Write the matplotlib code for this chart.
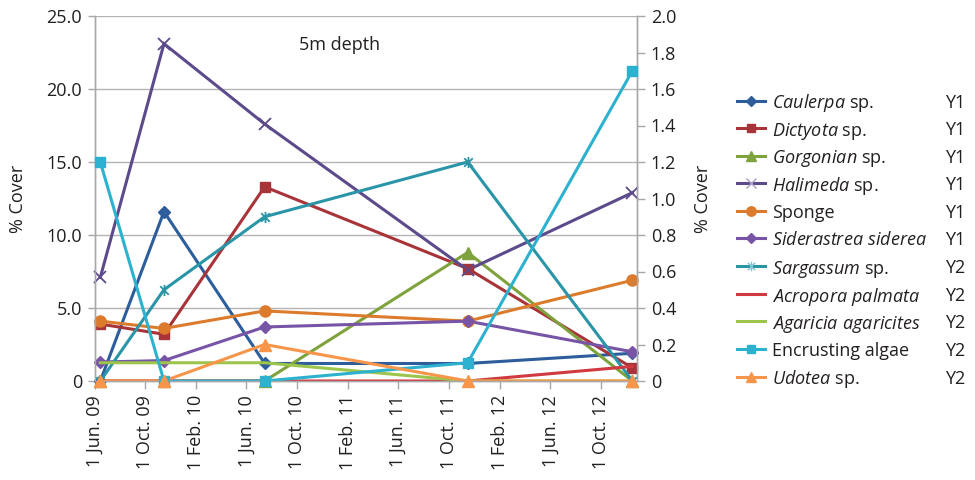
import matplotlib
matplotlib.use("Agg")
import matplotlib.pyplot as plt
import matplotlib.dates as mdates
from matplotlib.lines import Line2D
from matplotlib.path import Path
from matplotlib.ticker import FixedLocator, FuncFormatter
from datetime import datetime

plt.rcParams["font.family"] = ["Open Sans", "DejaVu Sans"]
plt.rcParams["mathtext.fontset"] = "custom"
plt.rcParams["mathtext.it"] = "Open Sans:italic"
plt.rcParams["mathtext.rm"] = "Open Sans"

# ---- survey data -------------------------------------------------------
survey_dates = ["2009-06-15", "2009-11-15", "2010-07-15", "2011-11-15", "2012-12-15"]

# primary axis (Y1, % cover 0-25)
caulerpa    = [0.0, 11.6, 1.2, 1.2, 1.9]
dictyota    = [3.9, 3.2, 13.3, 7.7, 0.9]
gorgonian   = [0.0, 0.0, 0.0, 8.8, 0.0]
halimeda    = [7.1, 23.1, 17.6, 7.6, 12.9]
sponge      = [4.1, 3.6, 4.8, 4.1, 6.9]
siderastrea = [1.3, 1.4, 3.7, 4.1, 2.0]

# secondary axis (Y2, % cover 0-2)
sargassum   = [0.0, 0.50, 0.90, 1.20, 0.0]
acropora    = [0.0, 0.0, 0.0, 0.0, 0.08]
agaricia    = [0.10, 0.10, 0.10, 0.0, 0.0]
encrusting  = [1.20, 0.0, 0.0, 0.10, 1.70]
udotea      = [0.0, 0.0, 0.20, 0.0, 0.0]

tick_dates = ["2009-06-01", "2009-10-01", "2010-02-01", "2010-06-01", "2010-10-01",
              "2011-02-01", "2011-06-01", "2011-10-01", "2012-02-01", "2012-06-01",
              "2012-10-01"]
tick_labels = ["1 Jun. 09", "1 Oct. 09", "1 Feb. 10", "1 Jun. 10", "1 Oct. 10",
               "1 Feb. 11", "1 Jun. 11", "1 Oct. 11", "1 Feb. 12", "1 Jun. 12",
               "1 Oct. 12"]

y1_ticks = [0, 5, 10, 15, 20, 25]
y2_ticks = [0, 0.2, 0.4, 0.6, 0.8, 1.0, 1.2, 1.4, 1.6, 1.8, 2.0]

# ---- styling -------------------------------------------------------------
TEXT = "#231F20"
AXIS_GREY = "#A8A8A8"
FS = 13

star_path = Path([(-1, -1), (1, 1), (-1, 1), (1, -1), (0, -1.3), (0, 1.3)],
                 [Path.MOVETO, Path.LINETO] * 3)

def to_num(ds):
    return [mdates.date2num(datetime.strptime(d, "%Y-%m-%d")) for d in ds]

x = to_num(survey_dates)

series = [
    # label, values, axis, colour, marker, marker size
    (r"$\mathit{Caulerpa}$ sp.",            caulerpa,    "Y1", "#2D5E9B", "D", 6.0),
    (r"$\mathit{Dictyota}$ sp.",            dictyota,    "Y1", "#A8343A", "s", 7.5),
    (r"$\mathit{Gorgonian}$ sp.",           gorgonian,   "Y1", "#7EA23C", "^", 8.5),
    (r"$\mathit{Halimeda}$ sp.",            halimeda,    "Y1", "#5C4A8B", "x", 8.0),
    ("Sponge",                              sponge,      "Y1", "#DC7B2C", "o", 8.0),
    (r"$\mathit{Siderastrea\ siderea}$",    siderastrea, "Y1", "#7754A6", "D", 6.0),
    (r"$\mathit{Sargassum}$ sp.",           sargassum,   "Y2", "#2A95A7", star_path, 8.0),
    (r"$\mathit{Acropora\ palmata}$",       acropora,    "Y2", "#D0393F", None, 0),
    (r"$\mathit{Agaricia\ agaricites}$",    agaricia,    "Y2", "#9DC54B", None, 0),
    ("Encrusting algae",                    encrusting,  "Y2", "#2CB1CE", "s", 7.5),
    (r"$\mathit{Udotea}$ sp.",              udotea,      "Y2", "#F7964A", "^", 8.5),
]

# ---- figure --------------------------------------------------------------
W, H = 975, 480
fig = plt.figure(figsize=(W / 100, H / 100), dpi=100)
left_px, right_px, top_px, bottom_px = 94.5, 637, 16, 381
ax1 = fig.add_axes([left_px / W, 1 - bottom_px / H,
                    (right_px - left_px) / W, (bottom_px - top_px) / H])
ax2 = ax1.twinx()

ax1.set_xlim(mdates.date2num(datetime(2009, 6, 1)), mdates.date2num(datetime(2012, 12, 26)))
ax1.set_ylim(0, 25)
ax2.set_ylim(0, 2.0)

for label, vals, which, col, mk, ms in series:
    ax = ax1 if which == "Y1" else ax2
    ax.plot(x, vals, color=col, lw=2.2, solid_joinstyle="miter", zorder=2)
    if mk is not None:
        open_marker = mk in ("x",) or isinstance(mk, Path)
        ax.plot(x, vals, linestyle="none", marker=mk, markersize=ms,
                color=col, markerfacecolor=("none" if open_marker else col),
                markeredgecolor=col, markeredgewidth=(1.3 if open_marker else 1.0),
                clip_on=False, zorder=3)

# grid and spines
ax1.set_axisbelow(True)
ax1.yaxis.set_major_locator(FixedLocator(y1_ticks))
ax1.grid(axis="y", color="#B4B4B4", lw=1.0)
ax1.yaxis.set_major_formatter(FuncFormatter(lambda v, p: "0" if v == 0 else f"{v:.1f}"))
ax2.yaxis.set_major_locator(FixedLocator(y2_ticks))
ax2.yaxis.set_major_formatter(FuncFormatter(lambda v, p: "0" if abs(v) < 1e-9 else f"{v:.1f}"))

for ax in (ax1, ax2):
    ax.spines["top"].set_visible(False)
    for s in ("left", "right", "bottom"):
        ax.spines[s].set_color(AXIS_GREY)
        ax.spines[s].set_linewidth(1.0)

ax1.set_xticks(to_num(tick_dates))
ax1.set_xticklabels(tick_labels, rotation=90)
ax1.tick_params(axis="x", length=6, width=1, color=AXIS_GREY, labelsize=FS,
                labelcolor=TEXT, pad=4)
ax1.tick_params(axis="y", length=5, width=1, color=AXIS_GREY, labelsize=FS,
                labelcolor=TEXT, pad=4)
ax2.tick_params(axis="y", length=6, width=1, color=AXIS_GREY, labelsize=FS,
                labelcolor=TEXT, pad=4)

ax1.text(0.4525, 0.92, "5m depth", transform=ax1.transAxes, ha="center",
         va="center", fontsize=FS, color=TEXT)

yc = 1 - ((top_px + bottom_px) / 2) / H
fig.text(18 / W, yc, "% Cover", rotation=90, ha="center", va="center",
         fontsize=FS, color=TEXT)
fig.text(703 / W, yc, "% Cover", rotation=90, ha="center", va="center",
         fontsize=FS, color=TEXT)

# ---- legend with axis column ---------------------------------------------
row0, row_step = 100.5, 27.6
for i, (label, vals, which, col, mk, ms) in enumerate(series):
    yf = 1 - (row0 + i * row_step) / H
    fig.add_artist(Line2D([737 / W, 765 / W], [yf, yf], transform=fig.transFigure,
                          color=col, lw=2.2))
    if mk is not None:
        open_marker = mk in ("x",) or isinstance(mk, Path)
        fig.add_artist(Line2D([751 / W], [yf], transform=fig.transFigure,
                              linestyle="none", marker=mk, markersize=ms * 0.85,
                              markerfacecolor=("none" if open_marker else col),
                              markeredgecolor=("#A9A0C4" if mk == "x" else
                                               ("#7FC3CD" if isinstance(mk, Path) else col)),
                              markeredgewidth=1.0))
    fig.text(772 / W, yf, label, ha="left", va="center_baseline", fontsize=FS, color=TEXT)
    fig.text(945 / W, yf, which, ha="left", va="center_baseline", fontsize=FS, color=TEXT)

fig.savefig("out.png", dpi=100)
